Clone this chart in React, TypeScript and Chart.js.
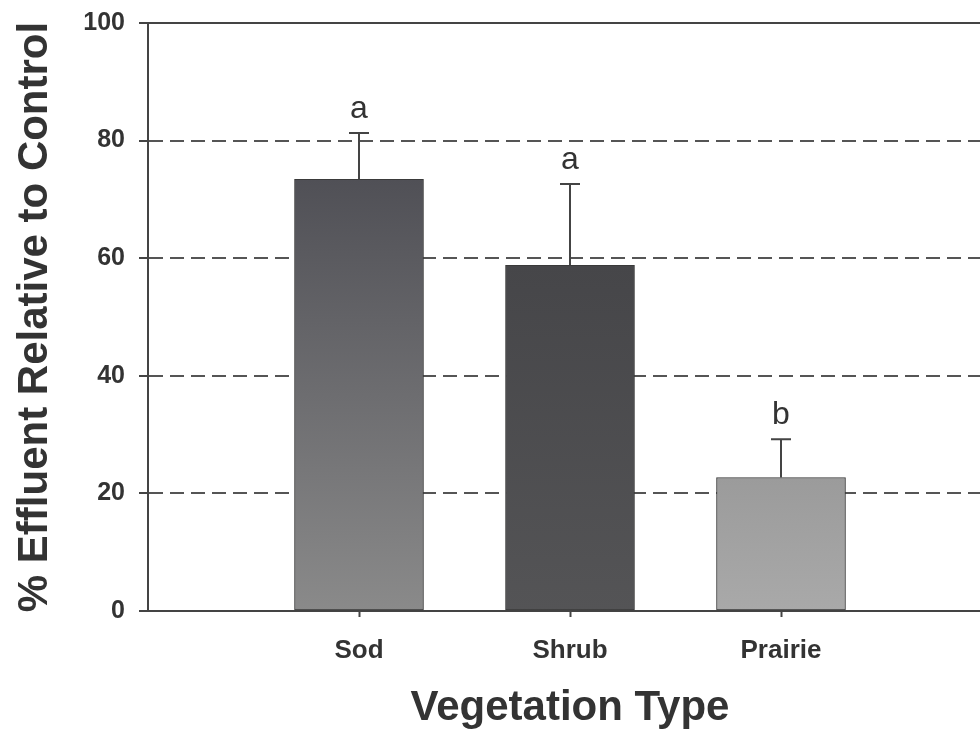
import { useEffect, useRef } from 'react';
import { Chart, registerables } from 'chart.js';

Chart.register(...registerables);

// ---- data ----
const categories = ['Sod', 'Shrub', 'Prairie'];
const meanValues = [73.4, 58.8, 22.7];
const errorUpper = [81.3, 72.6, 29.2];
const groupLetters = ['a', 'a', 'b'];
const yTickValues = [0, 20, 40, 60, 80, 100];
const xTitle = 'Vegetation Type';
const yTitle = '% Effluent Relative to Control';

// ---- styles ----
const barTopColors = ['#505056', '#464649', '#9b9b9b'];
const barBottomColors = ['#8a8a8a', '#545456', '#a9a9a9'];
const FONT = "'Liberation Sans', Arial, sans-serif";
const INK = '#333333';
const LINE = '#444444';

const errorBarPlugin = {
  id: 'errorBarsAndLetters',
  afterDatasetsDraw(chart: any) {
    const { ctx, chartArea, scales } = chart;
    const ys = scales.y;
    const meta = chart.getDatasetMeta(0);
    ctx.save();
    // top frame line
    ctx.strokeStyle = LINE;
    ctx.lineWidth = 2;
    ctx.beginPath();
    ctx.moveTo(chartArea.left, chartArea.top);
    ctx.lineTo(chartArea.right, chartArea.top);
    ctx.stroke();

    meta.data.forEach((bar: any, i: number) => {
      const x = bar.x;
      const yBar = ys.getPixelForValue(meanValues[i]);
      const yErr = ys.getPixelForValue(errorUpper[i]);
      ctx.strokeStyle = LINE;
      ctx.lineWidth = 2;
      ctx.beginPath();
      ctx.moveTo(x, yBar);
      ctx.lineTo(x, yErr);
      ctx.moveTo(x - 10, yErr);
      ctx.lineTo(x + 10, yErr);
      ctx.stroke();

      ctx.fillStyle = INK;
      ctx.font = `32px ${FONT}`;
      ctx.textAlign = 'center';
      ctx.textBaseline = 'alphabetic';
      ctx.fillText(groupLetters[i], x, yErr - 15);
    });
    ctx.restore();
  },
};

export default function App() {
  const ref = useRef<HTMLCanvasElement>(null);

  useEffect(() => {
    const canvas = ref.current;
    if (!canvas) return;
    const chart = new Chart(canvas, {
      type: 'bar',
      data: {
        datasets: [
          {
            data: meanValues.map((v, i) => ({ x: i + 1, y: v })),
            backgroundColor: (c: any) => {
              const i = c.dataIndex ?? 0;
              const chartRef = c.chart;
              if (!chartRef.chartArea) return barTopColors[i];
              const ys = chartRef.scales.y;
              const g = chartRef.ctx.createLinearGradient(
                0,
                ys.getPixelForValue(meanValues[i]),
                0,
                ys.getPixelForValue(0)
              );
              g.addColorStop(0, barTopColors[i]);
              g.addColorStop(1, barBottomColors[i]);
              return g;
            },
            borderColor: '#3a3a3a',
            borderWidth: 1,
            borderSkipped: false,
            barThickness: 129,
          } as any,
        ],
      },
      options: {
        animation: false,
        responsive: false,
        devicePixelRatio: 1,
        layout: { padding: { top: 23, right: 8, bottom: 0, left: 0 } },
        plugins: {
          legend: { display: false },
          tooltip: { enabled: false },
        },
        scales: {
          x: {
            type: 'linear',
            offset: false,
            min: 0,
            max: categories.length + 1,
            afterBuildTicks: (scale: any) => {
              scale.ticks = categories.map((_, i) => ({ value: i + 1 }));
            },
            afterFit: (scale: any) => {
              scale.height = 124;
              scale.paddingLeft = 0;
              scale.paddingRight = 0;
            },
            ticks: {
              autoSkip: false,
              maxRotation: 0,
              padding: 18,
              color: INK,
              font: { family: FONT, size: 26, weight: 'bold' },
              callback: (v: any) => categories[Number(v) - 1] ?? '',
            },
            grid: {
              offset: false,
              drawOnChartArea: false,
              drawTicks: true,
              tickLength: 6,
              tickColor: LINE,
              tickWidth: 2,
            },
            border: { display: true, color: LINE, width: 2 },
            title: {
              display: true,
              text: xTitle,
              color: INK,
              font: { family: FONT, size: 42, weight: 'bold' },
              padding: { top: 0, bottom: 1 },
            },
          },
          y: {
            type: 'linear',
            min: 0,
            max: 100,
            afterBuildTicks: (scale: any) => {
              scale.ticks = yTickValues.map((v) => ({ value: v }));
            },
            afterFit: (scale: any) => {
              scale.width = 148;
              scale.paddingTop = 0;
              scale.paddingBottom = 0;
            },
            ticks: {
              padding: 14,
              color: INK,
              font: { family: FONT, size: 25, weight: 'bold' },
            },
            grid: {
              color: (c: any) =>
                c.tick && (c.tick.value === 0 || c.tick.value === 100)
                  ? 'rgba(0,0,0,0)'
                  : '#555555',
              lineWidth: 2,
              tickLength: 9,
              tickColor: LINE,
              tickWidth: 2,
              tickBorderDash: [],
            } as any,
            border: { display: true, color: LINE, width: 2, dash: [14, 7] },
            title: {
              display: true,
              text: yTitle,
              color: INK,
              font: { family: FONT, size: 42, weight: 'bold' },
              padding: { top: 10, bottom: 0 },
            },
          },
        },
      } as any,
      plugins: [errorBarPlugin],
    });
    return () => chart.destroy();
  }, []);

  return (
    <div
      style={{
        position: 'fixed',
        left: 0,
        top: 0,
        width: 980,
        height: 735,
        overflow: 'hidden',
        background: '#ffffff',
      }}
    >
      <canvas
        ref={ref}
        width={1000}
        height={735}
        style={{ display: 'block', width: 1000, height: 735 }}
      />
    </div>
  );
}
